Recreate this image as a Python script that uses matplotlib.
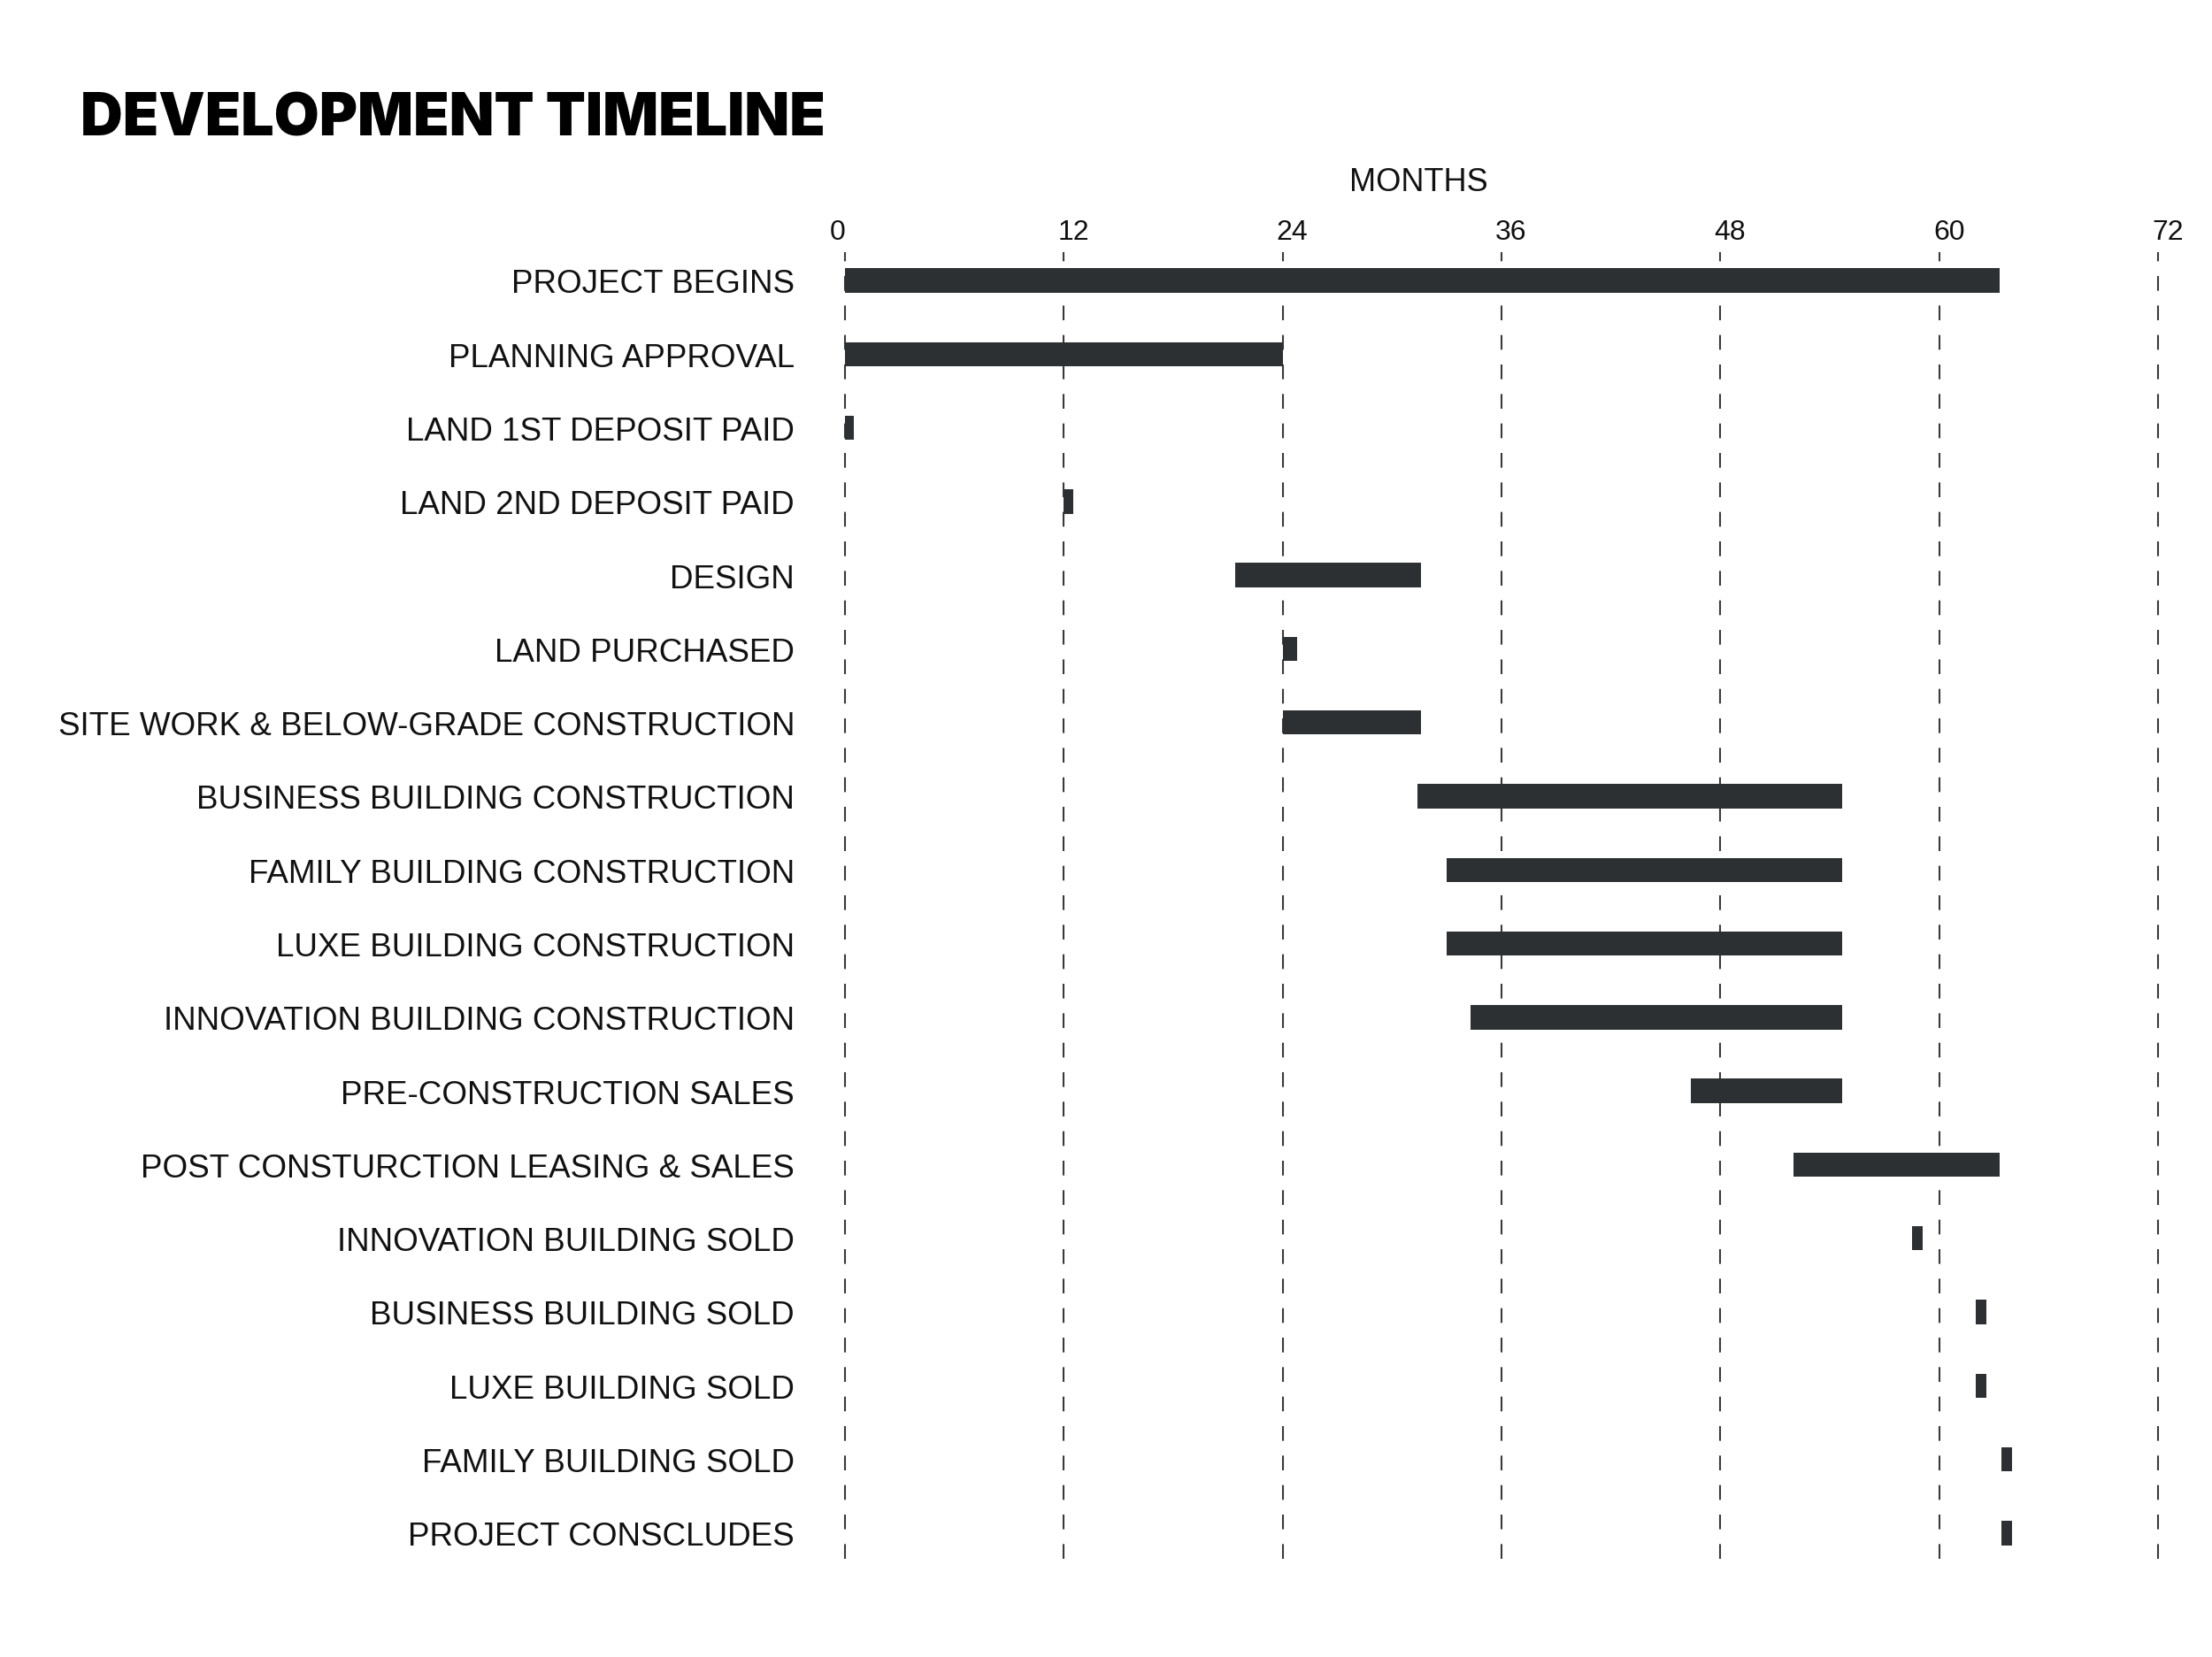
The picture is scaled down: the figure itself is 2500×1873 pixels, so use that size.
import matplotlib.pyplot as plt
from matplotlib.transforms import ScaledTranslation
import numpy as np

# timeline data (months)
tasks = [
    'PROJECT BEGINS',
    'PLANNING APPROVAL',
    'LAND 1ST DEPOSIT PAID',
    'LAND 2ND DEPOSIT PAID',
    'DESIGN',
    'LAND PURCHASED',
    'SITE WORK & BELOW-GRADE CONSTRUCTION',
    'BUSINESS BUILDING CONSTRUCTION',
    'FAMILY BUILDING CONSTRUCTION',
    'LUXE BUILDING CONSTRUCTION',
    'INNOVATION BUILDING CONSTRUCTION',
    'PRE-CONSTRUCTION SALES',
    'POST CONSTURCTION LEASING & SALES',
    'INNOVATION BUILDING SOLD',
    'BUSINESS BUILDING SOLD',
    'LUXE BUILDING SOLD',
    'FAMILY BUILDING SOLD',
    'PROJECT CONSCLUDES',
]
start = [0, 0, 0, 12, 21.4, 24, 24, 31.4, 33, 33, 34.3, 46.4, 52, 58.5, 62, 62, 63.4, 63.4]
end = [63.3, 24, 0.5, 12.5, 31.6, 24.8, 31.6, 54.7, 54.7, 54.7, 54.7, 54.7, 63.3, 59.1, 62.6, 62.6, 64, 64]
month_ticks = [0, 12, 24, 36, 48, 60, 72]

bar_color = '#2d3033'
grid_color = '#3a3a3a'
label_font = ['Liberation Sans', 'DejaVu Sans']

fig = plt.figure(figsize=(25, 18.74), dpi=100)
ax = fig.add_axes([955 / 2500, 1 - 1763 / 1874, 1484 / 2500, 1477 / 1874])

y = np.arange(len(tasks))
widths = np.array(end) - np.array(start)
ax.barh(y, widths, left=start, height=0.33, color=bar_color, zorder=3)

ax.set_xlim(0, 72)
ax.set_ylim(len(tasks) - 1 + 0.35, -0.384)

ax.grid(axis='x', color=grid_color, linewidth=1.5, linestyle=(0, (8, 8)), zorder=1)
for gl in ax.get_xgridlines():
    gl.set_clip_on(False)
ax.grid(axis='y', visible=False)

for s in ax.spines.values():
    s.set_visible(False)

ax.set_yticks(y)
ax.set_yticklabels(tasks, family=label_font, fontsize=26.5, color='#111111')
ax.tick_params(axis='y', length=0, pad=41)

ax.xaxis.tick_top()
ax.set_xticks(month_ticks)
ax.set_xticklabels([str(m) for m in month_ticks], family=label_font, fontsize=23, color='#111111')
ax.tick_params(axis='x', length=0, pad=6)
for i, lab in enumerate(ax.get_xticklabels()):
    dx = -8 if i == 0 else 11
    lab.set_transform(lab.get_transform() + ScaledTranslation(dx / 100, 0, fig.dpi_scale_trans))

fig.text(1603 / 2500, 1 - 216 / 1874, 'MONTHS', ha='center', va='baseline',
         family=label_font, fontsize=26, color='#111111')

fig.text(91 / 2500, 1 - 153 / 1874, 'DEVELOPMENT TIMELINE', ha='left', va='baseline',
         family=['Inter', 'Liberation Sans', 'DejaVu Sans'], fontweight=900,
         fontsize=47.5, color='#000000')

fig.savefig('out.png', dpi=100, facecolor='white')
